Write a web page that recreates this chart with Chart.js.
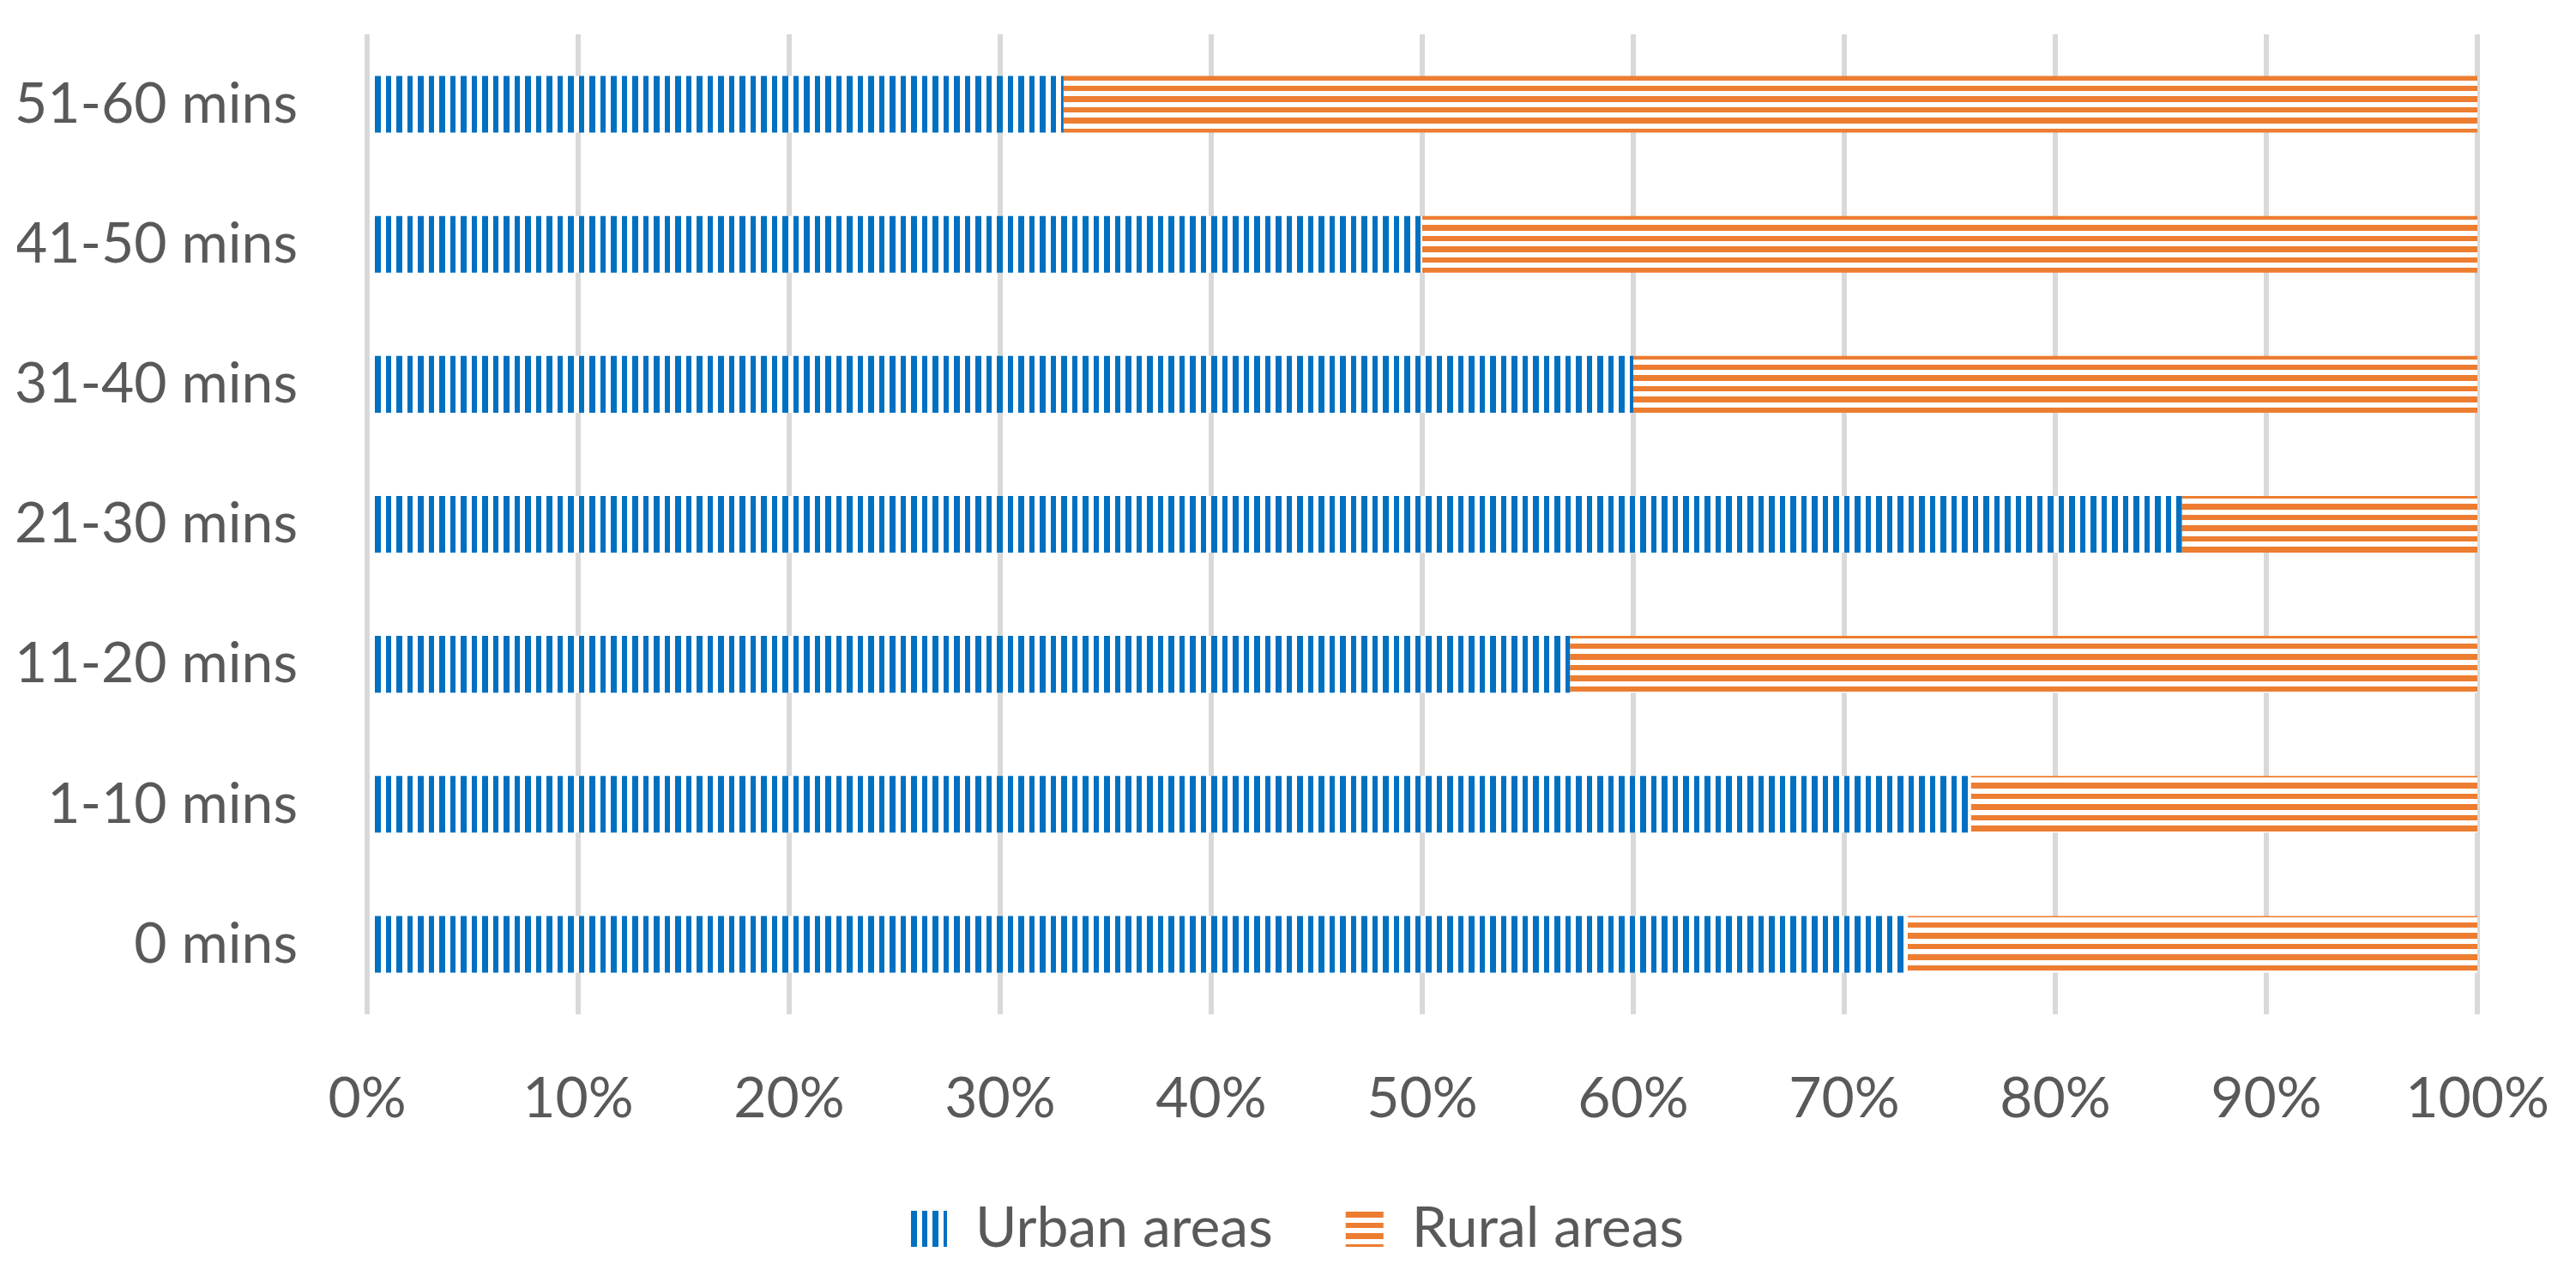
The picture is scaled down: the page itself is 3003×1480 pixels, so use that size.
<!DOCTYPE html>
<html>
<head>
<meta charset="utf-8">
<script src="https://cdn.jsdelivr.net/npm/chart.js@4.4.1/dist/chart.umd.min.js"></script>
<style>
  html, body { margin: 0; padding: 0; background: #fff; overflow: hidden; }
  canvas { display: block; }
</style>
</head>
<body>
<canvas id="travelChart" width="3003" height="1480"></canvas>
<script>
const categories = ['51-60 mins', '41-50 mins', '31-40 mins', '21-30 mins', '11-20 mins', '1-10 mins', '0 mins'];
const urbanShares = [33, 50, 60, 86, 57, 76, 73];
const ruralShares = [67, 50, 40, 14, 43, 24, 27];
const percentTicks = [0, 10, 20, 30, 40, 50, 60, 70, 80, 90, 100];

const FONT = { family: 'Lato', size: 66 };
const TEXT_COLOR = '#595959';

// striped fills, white underneath so the grid lines don't show through
const makeStripes = (color, vertical) => {
  const tile = document.createElement('canvas');
  tile.width = 25;
  tile.height = 25;
  const t = tile.getContext('2d');
  t.fillStyle = '#ffffff';
  t.fillRect(0, 0, 25, 25);
  t.fillStyle = color;
  if (vertical) {
    t.fillRect(0, 0, 6, 25);
    t.fillRect(12, 0, 7, 25);
  } else {
    t.fillRect(0, 0, 25, 6);
    t.fillRect(0, 12, 25, 7);
  }
  return t.createPattern(tile, 'repeat');
};

const ctx = document.getElementById('travelChart').getContext('2d');

const travelChart = new Chart(ctx, {
  type: 'bar',
  data: {
    labels: categories,
    datasets: [
      {
        label: 'Urban areas',
        data: urbanShares,
        backgroundColor: makeStripes('#0070C0', true),
        borderWidth: 0,
        barPercentage: 0.405,
        categoryPercentage: 1,
      },
      {
        label: 'Rural areas',
        data: ruralShares,
        backgroundColor: makeStripes('#ED7D31', false),
        borderWidth: 0,
        barPercentage: 0.405,
        categoryPercentage: 1,
      },
    ],
  },
  options: {
    indexAxis: 'y',
    responsive: false,
    animation: false,
    devicePixelRatio: 1,
    layout: {
      padding: { top: 40, right: 0, bottom: 5, left: 20 },
    },
    plugins: {
      tooltip: { enabled: false },
      legend: {
        position: 'bottom',
        labels: {
          font: FONT,
          color: TEXT_COLOR,
          boxWidth: 44,
          boxHeight: 42,
          padding: 85,
        },
      },
    },
    scales: {
      x: {
        stacked: true,
        min: 0,
        max: 100,
        afterBuildTicks: (scale) => {
          scale.ticks = percentTicks.map((v) => ({ value: v }));
        },
        afterFit: (scale) => {
          scale.height = 132;
          // let the layout decide the plot edges
          scale.paddingLeft = 0;
          scale.paddingRight = 0;
        },
        grid: {
          color: '#D9D9D9',
          lineWidth: 6,
          drawTicks: false,
        },
        border: { display: false },
        ticks: {
          font: FONT,
          color: TEXT_COLOR,
          padding: 59,
          maxRotation: 0,
          callback: (value) => value + '%',
        },
      },
      y: {
        stacked: true,
        afterFit: (scale) => {
          scale.width = 408;
          scale.paddingTop = 0;
          scale.paddingBottom = 0;
        },
        grid: { display: false },
        border: { display: false },
        ticks: {
          font: FONT,
          color: TEXT_COLOR,
          padding: 73,
        },
      },
      // empty strip on the right so the plot ends before the canvas edge
      spacer: {
        type: 'category',
        position: 'right',
        afterFit: (scale) => {
          scale.width = 115;
          scale.paddingTop = 0;
          scale.paddingBottom = 0;
        },
        grid: { display: false },
        border: { display: false },
        ticks: { display: false },
      },
    },
  },
});
</script>
</body>
</html>
